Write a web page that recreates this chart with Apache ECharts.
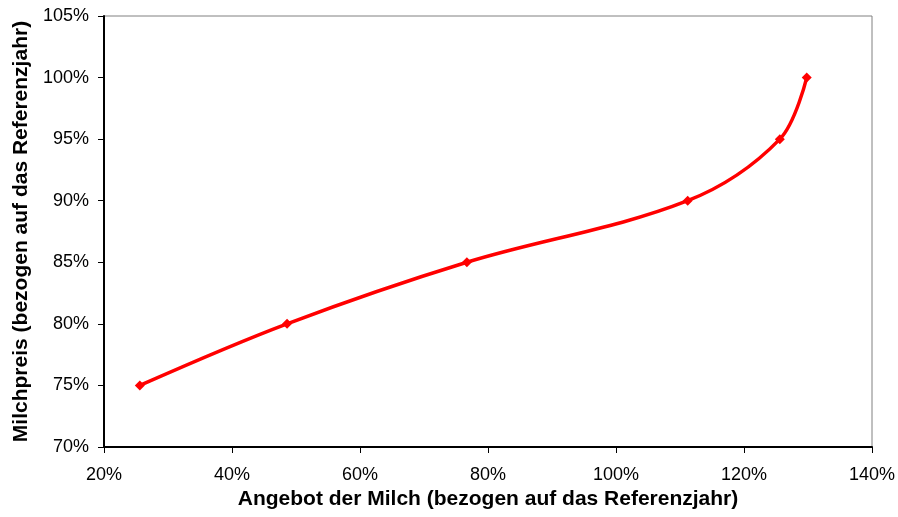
<!DOCTYPE html>
<html>
<head>
<meta charset="utf-8">
<script src="https://cdn.jsdelivr.net/npm/echarts@6/dist/echarts.min.js"></script>
<style>
  html, body { margin: 0; padding: 0; background: #fff; }
  #chart { width: 898px; height: 517px; }
</style>
</head>
<body>
<div id="chart"></div>
<script>
// Angebot (x) und Milchpreis (y), jeweils in % des Referenzjahres
var angebot = [25.6, 48.6, 76.7, 111.2, 125.6, 129.8];
var milchpreis = [75, 80, 85, 90, 95, 100];

var chart = echarts.init(document.getElementById("chart"));
var font = "Liberation Sans, Arial, sans-serif";

var option = {
  animation: false,
  grid: {
    left: 104,
    right: 26,
    top: 16,
    bottom: 70,
    outerBoundsMode: "none",
    containLabel: false,
    show: true,
    borderColor: "#808080",
    borderWidth: 1,
  },
  xAxis: {
    type: "value",
    min: 20,
    max: 140,
    interval: 20,
    name: "Angebot der Milch (bezogen auf das Referenzjahr)",
    nameLocation: "middle",
    nameGap: 41,
    nameTextStyle: { fontFamily: font, fontSize: 21, fontWeight: "bold", color: "#000" },
    axisLine: { show: true, lineStyle: { color: "#000", width: 2 } },
    axisTick: { show: true, length: 6, lineStyle: { color: "#000" } },
    axisLabel: {
      margin: 19,
      fontFamily: font,
      fontSize: 18,
      color: "#000",
      formatter: function (v) { return v + "%"; },
    },
    splitLine: { show: false },
  },
  yAxis: {
    type: "value",
    min: 70,
    max: 105,
    interval: 5,
    name: "Milchpreis (bezogen auf das Referenzjahr)",
    nameLocation: "middle",
    nameGap: 72,
    nameTextStyle: { fontFamily: font, fontSize: 21, fontWeight: "bold", color: "#000" },
    axisLine: { show: true, lineStyle: { color: "#000", width: 2 } },
    axisTick: { show: true, length: 6, lineStyle: { color: "#000" } },
    axisLabel: {
      margin: 15,
      fontFamily: font,
      fontSize: 18,
      color: "#000",
      formatter: function (v) { return v + "%"; },
    },
    splitLine: { show: false },
  },
  series: [
    {
      type: "line",
      smooth: 0.35,
      data: angebot.map(function (x, i) { return [x, milchpreis[i]]; }),
      symbol: "diamond",
      symbolSize: 10,
      itemStyle: { color: "#ff0000" },
      lineStyle: { color: "#ff0000", width: 3.5 },
    },
  ],
};
chart.setOption(option);
</script>
</body>
</html>
